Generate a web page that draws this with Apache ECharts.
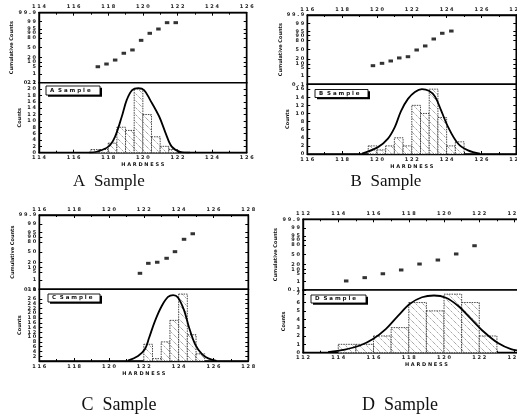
<!DOCTYPE html>
<html><head><meta charset="utf-8">
<script src="https://cdn.jsdelivr.net/npm/echarts@6/dist/echarts.min.js"></script>
<style>html,body{margin:0;padding:0;background:#fff}#c{width:517px;height:415px}</style>
</head><body><div id="c"></div>
<script>
// ---------------- DATA ----------------
const PROB_LABELS = ['99.9','99','95','90','80','50','20','10','5','1','0.1'];
const PROB_Z      = [3.09, 2.33, 1.64, 1.28, 0.84, 0, -0.84, -1.28, -1.64, -2.33, -3.09];

// A sample
const A_cumX = [117.4,117.9,118.4,118.9,119.4,119.9,120.4,120.9,121.4,121.9];
const A_cumZ = [-1.68,-1.44,-1.09,-0.49,-0.20,0.65,1.27,1.65,2.21,2.21];
const A_bins = [117.25,117.75,118.25,118.75,119.25,119.75,120.25,120.75,121.25,121.75];
const A_counts = [1,1,3,8,7,20,12,5,2,1];
const A_curveX = [116.9,117.34,118.01,118.39,118.78,119.07,119.38,119.74,120.07,120.42,120.95,121.32,121.67,122.15,122.73];
const A_curveY = [0.05,0.3,1.9,5.0,11.3,16.6,19.7,20.3,19.7,16.6,11.3,6.1,1.9,0.3,0];

// B sample
const B_cumX = [119.77,120.29,120.79,121.28,121.78,122.28,122.77,123.26,123.75,124.27];
const B_cumZ = [-1.43,-1.22,-1.01,-0.74,-0.63,-0.03,0.33,0.95,1.46,1.66];
const B_bins = [119.75,120.25,120.75,121.25,121.75,122.25,122.75,123.25,123.75,124.25,124.75];
const B_counts = [2,1,2,4,2,12,10,16,9,2,3];
const B_curveX = [119.14,120.06,120.63,121.03,121.38,121.78,122.18,122.58,122.98,123.33,123.67,124.08,124.65,125.23,125.91];
const B_curveY = [0.1,1.7,3.8,6.7,10.6,13.6,15.3,16.0,15.6,14.2,10.9,6.7,2.6,0.9,0.1];

// C sample
const C_cumX = [121.78,122.26,122.77,123.31,123.79,124.31,124.81];
const C_cumZ = [-1.76,-0.93,-0.84,-0.51,0.04,1.07,1.53];
const C_bins = [122.25,122.75,123.25,123.75,124.25,124.75,125.25];
const C_counts = [7,1,8,17,28,11,3];
const C_curveX = [121.09,121.67,122.07,122.30,122.64,123.03,123.39,123.69,123.96,124.31,124.59,124.94,125.34,125.70,126.18];
const C_curveY = [0.2,2.1,5.0,9.6,16.7,23.0,26.8,27.6,26.6,21.3,14.2,7.1,2.9,1.1,0.1];

// D sample
const D_cumX = [114.45,115.5,116.53,117.57,118.61,119.65,120.69,121.73];
const D_cumZ = [-2.30,-2.01,-1.67,-1.34,-0.82,-0.47,0.06,0.78];
const D_bins = [114.5,115.5,116.5,117.5,118.5,119.5,120.5,121.5,122.5];
const D_counts = [1,1,2,3,6,5,7,6,2];
const D_curveX = [113.42,114.38,115.23,115.97,116.71,117.39,118.07,118.75,119.43,120.11,120.79,121.53,122.27,123.06,123.80,124.59];
const D_curveY = [0.08,0.38,0.86,1.64,2.85,4.41,5.85,6.63,6.84,6.57,5.61,4.05,2.48,1.16,0.44,0.14];

const NAMES = ['A Sample','B Sample','C Sample','D Sample'];
const CAPTIONS = ['A  Sample','B  Sample','C  Sample','D  Sample'];
const LEGEND_TEXT = ['A  S a m p l e','B  S a m p l e','C  S a m p l e','D  S a m p l e'];
const X_RANGE = [[114,126],[116,128],[116,128],[112,126]];
const X_STEP = [2,2,2,2];
const BIN_W = [0.5,0.5,0.5,1];
const Y_MAX = [22,17.2,30,7.5];
const Y_STEP = [2,2,2,1];

// ---------------- LAYOUT ----------------
const GEO = [
  {L:39,   W:207.7, tT:12.7,  tH:70,   bT:82.7,  bH:70,   leg:[46,86,54,9],    cap:[109,182], fs:17},
  {L:307.3,W:209,   tT:15,    tH:69.3, bT:84.3,  bH:69.7, leg:[315,89.5,53,8], cap:[386,182], fs:17},
  {L:39.3, W:209,   tT:215,   tH:74.3, bT:289.3, bH:71.7, leg:[48,294,52,8],   cap:[119,405], fs:18},
  {L:303,  W:246.8, tT:219.3, tH:70.7, bT:290,   bH:62.7, leg:[311,295,55,8],  cap:[400,405], fs:18}
];

const panels = [
  {cumX:A_cumX,cumZ:A_cumZ,bins:A_bins,counts:A_counts,cx:A_curveX,cy:A_curveY},
  {cumX:B_cumX,cumZ:B_cumZ,bins:B_bins,counts:B_counts,cx:B_curveX,cy:B_curveY},
  {cumX:C_cumX,cumZ:C_cumZ,bins:C_bins,counts:C_counts,cx:C_curveX,cy:C_curveY},
  {cumX:D_cumX,cumZ:D_cumZ,bins:D_bins,counts:D_counts,cx:D_curveX,cy:D_curveY}
];

function hatchCanvas(){
  const c=document.createElement('canvas'); c.width=7; c.height=7;
  const g=c.getContext('2d');
  g.fillStyle='#fff'; g.fillRect(0,0,7,7);
  g.strokeStyle='#7a7a7a'; g.lineWidth=0.8; g.setLineDash([1.2,1]);
  g.beginPath(); g.moveTo(0,0); g.lineTo(7,7); g.stroke();
  g.beginPath(); g.moveTo(-1,6); g.lineTo(1,8); g.stroke();
  g.beginPath(); g.moveTo(6,-1); g.lineTo(8,1); g.stroke();
  return c;
}
const HATCH = {image: hatchCanvas(), repeat:'repeat'};

const tiny = {fontSize:5, fontFamily:'DejaVu Sans', fontWeight:'bold', color:'#222'};
const spaced = v => String(v).split('').join(' ');

const grids=[], xAxes=[], yAxes=[], series=[], graphics=[];
panels.forEach((p,i)=>{
  const g = GEO[i];
  const gt = grids.length;
  const gridCommon = {left:g.L, width:g.W, show:true, borderColor:'#000', borderWidth:1.4, backgroundColor:'#fff', outerBoundsMode:'none', containLabel:false};
  grids.push(Object.assign({}, gridCommon, {top:g.tT, height:g.tH}));
  grids.push(Object.assign({}, gridCommon, {top:g.bT, height:g.bH}));
  const gb = gt+1;
  const xCommon = {type:'value', min:X_RANGE[i][0], max:X_RANGE[i][1], interval:X_STEP[i],
    splitLine:{show:false},
    axisLine:{show:true, onZero:false, lineStyle:{color:'#000', width:1.4}},
    axisTick:{show:true, inside:true, length:3, lineStyle:{color:'#000'}},
    minorTick:{show:true, splitNumber:2, length:2, lineStyle:{color:'#000'}},
    axisLabel:Object.assign({margin:3, formatter:spaced}, tiny)};
  const xt = xAxes.length;
  xAxes.push(Object.assign({}, xCommon, {gridIndex:gt, position:'top'}));
  xAxes.push(Object.assign({}, xCommon, {gridIndex:gb, position:'bottom',
    name:'H A R D N E S S', nameLocation:'middle', nameGap:10,
    nameTextStyle:{fontSize:5, fontFamily:'DejaVu Sans', fontWeight:'bold', color:'#111'}}));
  const yt = yAxes.length;
  // cumulative probability axis
  yAxes.push({type:'value', gridIndex:gt, position:'left', min:-3.09, max:3.09,
    splitLine:{show:false},
    axisLine:{show:true, onZero:false, lineStyle:{color:'#000', width:1.4}},
    axisTick:{show:true, inside:true, length:3, customValues:PROB_Z, lineStyle:{color:'#000'}},
    axisLabel:Object.assign({margin:3, customValues:PROB_Z,
      formatter:v=>{const k=PROB_Z.findIndex(z=>Math.abs(z-v)<1e-6); return k>=0?spaced(PROB_LABELS[k]):'';}}, tiny),
    name:'Cumulative Counts', nameLocation:'middle', nameGap:17, nameRotate:90,
    nameTextStyle:{fontSize:5, fontFamily:'DejaVu Sans', fontWeight:'bold', color:'#111'}});
  yAxes.push({type:'value', gridIndex:gt, position:'right', min:-3.09, max:3.09,
    splitLine:{show:false},
    axisLine:{show:true, onZero:false, lineStyle:{color:'#000', width:1.4}},
    axisTick:{show:true, inside:true, length:3, customValues:PROB_Z, lineStyle:{color:'#000'}},
    axisLabel:{show:false}});
  // counts axis
  const cntCommon = {type:'value', gridIndex:gb, min:0, max:Y_MAX[i], interval:Y_STEP[i],
    splitLine:{show:false},
    axisLine:{show:true, onZero:false, lineStyle:{color:'#000', width:1.4}},
    axisTick:{show:true, inside:true, length:3, lineStyle:{color:'#000'}}};
  yAxes.push(Object.assign({}, cntCommon, {position:'left',
    axisLabel:Object.assign({margin:3, showMaxLabel:Number.isInteger(Y_MAX[i]/Y_STEP[i]), formatter:spaced}, tiny),
    name:'Counts', nameLocation:'middle', nameGap:17, nameRotate:90,
    nameTextStyle:{fontSize:5, fontFamily:'DejaVu Sans', fontWeight:'bold', color:'#111'}}));
  yAxes.push(Object.assign({}, cntCommon, {position:'right', axisLabel:{show:false}}));

  // cumulative points
  series.push({type:'scatter', name:NAMES[i]+' cumulative', xAxisIndex:xt, yAxisIndex:yt,
    symbol:'rect', symbolSize:[4.5,3], itemStyle:{color:'#000'},
    data:p.cumX.map((x,k)=>[x,p.cumZ[k]]), silent:true});
  // histogram
  const bw = BIN_W[i];
  series.push({type:'custom', name:NAMES[i], xAxisIndex:xt+1, yAxisIndex:yt+2,
    data:p.bins.map((c,k)=>[c,p.counts[k]]), silent:true,
    renderItem:(params,api)=>{
      const c=api.value(0), v=api.value(1);
      const p0=api.coord([c-bw/2, v]), p1=api.coord([c+bw/2, 0]);
      return {type:'rect', shape:{x:p0[0], y:p0[1], width:p1[0]-p0[0], height:p1[1]-p0[1]},
        style:{fill:HATCH, stroke:'#333', lineWidth:0.9, lineDash:[1.5,1]}};
    }});
  // fitted curve
  series.push({type:'line', name:NAMES[i]+' curve', xAxisIndex:xt+1, yAxisIndex:yt+2,
    data:p.cx.map((x,k)=>[x,p.cy[k]]), smooth:0.35, symbol:'none', silent:true,
    lineStyle:{color:'#000', width:1.8}});

  // legend box
  const [lx,ly,lw,lh] = g.leg;
  graphics.push({type:'rect', shape:{x:lx+2, y:ly+1.8, width:lw, height:lh}, style:{fill:'#000'}, z:100});
  graphics.push({type:'rect', shape:{x:lx, y:ly, width:lw, height:lh}, style:{fill:'#fff', stroke:'#000', lineWidth:0.9}, z:101});
  graphics.push({type:'text', x:lx+4, y:ly+lh/2, z:102,
    style:{text:LEGEND_TEXT[i], fill:'#111', font:'bold 5.5px "DejaVu Sans"', textVerticalAlign:'middle', verticalAlign:'middle'}});
  // caption
  graphics.push({type:'text', x:g.cap[0], y:g.cap[1], z:102,
    style:{text:CAPTIONS[i], fill:'#111', font:g.fs+'px "Liberation Serif"', textAlign:'center', align:'center', textVerticalAlign:'middle', verticalAlign:'middle'}});
});

const chart = echarts.init(document.getElementById('c'), null, {renderer:'canvas'});
chart.setOption({
  animation:false, backgroundColor:'#fff',
  grid:grids, xAxis:xAxes, yAxis:yAxes, series:series, graphic:graphics
});
</script></body></html>
